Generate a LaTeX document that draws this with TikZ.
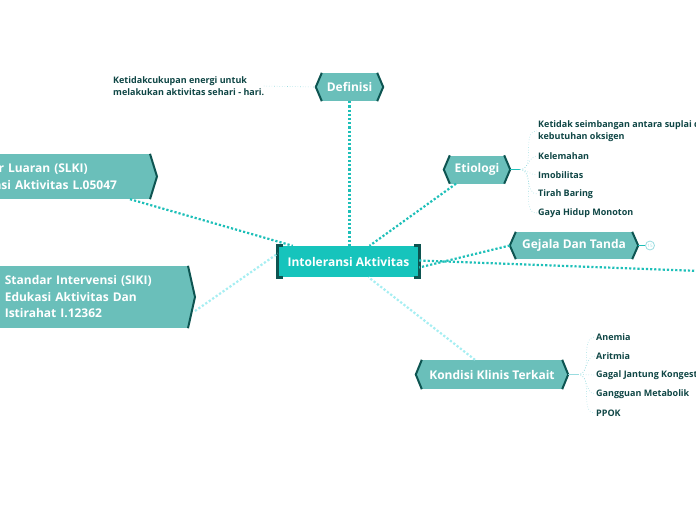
\documentclass[tikz,border=0pt]{standalone}
\usepackage{fontspec}
\setmainfont{Open Sans}
\usepackage{xcolor}
\usetikzlibrary{calc,backgrounds}

\definecolor{dotteal}{HTML}{1DBFB8}
\definecolor{dotlight}{HTML}{A6EEF2}
\definecolor{twigcol}{HTML}{9ADCE0}
\definecolor{hexfill}{HTML}{6ABFBA}
\definecolor{corefill}{HTML}{16C4BC}
\definecolor{edgedark}{HTML}{0D5451}
\definecolor{leafdark}{HTML}{0F4645}

\begin{document}
\begin{tikzpicture}[
    x=1pt, y=-1pt,
    core/.style={fill=corefill,text=white,minimum width=141,minimum height=31,
                 inner sep=0pt,font=\bfseries\fontsize{12}{14}\selectfont},
    hexnode/.style={fill=hexfill,text=white,minimum height=28,inner xsep=1pt,
                    inner ysep=0pt,font=\bfseries\fontsize{12}{14}\selectfont},
    sidebox/.style={fill=hexfill,text=white,align=left,inner xsep=7pt,
                    font=\bfseries\fontsize{12}{16.5}\selectfont},
    leaf/.style={text=leafdark,anchor=west,inner sep=1pt,align=left,
                 font=\bfseries\fontsize{9}{12}\selectfont},
    bracket/.style={draw=edgedark,line width=3pt},
    chevron/.style={draw=edgedark,line width=2pt},
    mainlink/.style={dotteal,line width=2.2pt,dash pattern=on 2.2pt off 2pt},
    softlink/.style={dotlight,line width=2.2pt,dash pattern=on 2.2pt off 2pt},
    twig/.style={twigcol,line width=0.6pt,dotted},
    stub/.style={dotteal,line width=1.5pt},
  ]
  \useasboundingbox (0,0) rectangle (696,520);
  \clip (0,0) rectangle (696,520);

  % --- central topic ---
  \node[core] (ia) at (348.5,261.5) {Intoleransi Aktivitas};
  \draw[bracket] ([xshift=5]ia.north west) -- (ia.north west) -- (ia.south west) -- ([xshift=5]ia.south west);
  \draw[bracket] ([xshift=-5]ia.north east) -- (ia.north east) -- (ia.south east) -- ([xshift=-5]ia.south east);

  % --- main branches ---
  \node[hexnode,minimum width=55] (definisi) at (349.5,87)  {Definisi};
  \node[hexnode,minimum width=54] (etiologi) at (477,169.5)  {Etiologi};
  \node[hexnode,minimum width=116,minimum height=27] (gejala) at (574,245.5) {Gejala Dan Tanda};
  \node[hexnode,minimum width=140,minimum height=29] (kondisi) at (492,374.5) {Kondisi Klinis Terkait};

  \foreach \n in {definisi,etiologi,gejala,kondisi} {
    \fill[hexfill] (\n.north west) -- ([xshift=-6]\n.west) -- (\n.south west) -- cycle;
    \fill[hexfill] (\n.north east) -- ([xshift=6]\n.east) -- (\n.south east) -- cycle;
    \draw[chevron] (\n.north west) -- ([xshift=-6]\n.west) -- (\n.south west);
    \draw[chevron] (\n.north east) -- ([xshift=6]\n.east) -- (\n.south east);
  }

  % --- standards on the left (run off the page) ---
  \node[sidebox,text width=186,minimum height=45,anchor=east] (slki) at (150,176.5)
    {Standar Luaran (SLKI)\\Toleransi Aktivitas L.05047};
  \node[sidebox,text width=176,minimum height=62,anchor=east] (siki) at (188,297)
    {Standar Intervensi (SIKI)\\Edukasi Aktivitas Dan\\Istirahat I.12362};

  \foreach \n in {slki,siki} {
    \fill[hexfill] (\n.north east) -- ([xshift=7]\n.east) -- (\n.south east) -- cycle;
    \draw[chevron] (\n.north east) -- ([xshift=7]\n.east) -- (\n.south east);
  }

  % --- definition text ---
  \node[leaf] (deftext) at (112,86)
    {Ketidakcukupan energi untuk\\melakukan aktivitas sehari - hari.};

  % --- etiologi leaves ---
  \coordinate (ethub) at (520,169.5);
  \node[leaf] (e1) at (537,131) {Ketidak seimbangan antara suplai dan\\kebutuhan oksigen};
  \node[leaf] (e2) at (537,156) {Kelemahan};
  \node[leaf] (e3) at (537,175) {Imobilitas};
  \node[leaf] (e4) at (537,194) {Tirah Baring};
  \node[leaf] (e5) at (537,213) {Gaya Hidup Monoton};

  % --- kondisi klinis leaves ---
  \coordinate (kohub) at (578,374.5);
  \node[leaf] (k1) at (595,337) {Anemia};
  \node[leaf] (k2) at (595,356) {Aritmia};
  \node[leaf] (k3) at (595,375) {Gagal Jantung Kongestif};
  \node[leaf] (k4) at (595,394) {Gangguan Metabolik};
  \node[leaf] (k5) at (595,413) {PPOK};

  % --- collapsed count on gejala ---
  \node[circle,draw=twigcol,line width=0.8pt,minimum size=9,inner sep=0pt,
        text=twigcol,font=\fontsize{4.5}{5}\selectfont] (gcount) at (650,245.5) {15};
  \coordinate (offright) at (700,271);

  % --- connectors ---
  \draw[mainlink] (definisi.south) -- (ia.north -| definisi.south);
  \draw[mainlink] (slki.south east) ++(-20,0) coordinate (slkiout) -- ([xshift=15]ia.north west);
  \draw[mainlink] ([xshift=-21]etiologi.south) -- ([xshift=21]ia.north);
  \draw[mainlink] ([xshift=-6]gejala.west) -- ([yshift=-6]ia.east);
  \draw[mainlink] ([yshift=1]ia.east) -- (offright);
  \draw[softlink] ([xshift=7,yshift=-14]siki.east) -- ([yshift=8]ia.west);
  \draw[softlink] ([xshift=-17]kondisi.north) -- ([xshift=20]ia.south);

  \draw[twig] ([shift={(-58,0)}]deftext.east -| definisi.west) -- ([xshift=-6]definisi.west);
  \draw[stub] ([xshift=6]etiologi.east) -- (ethub);
  \draw[stub,twigcol,line width=1pt] ([xshift=6]kondisi.east) -- (kohub);
  \draw[stub,line width=1pt] ([xshift=6]gejala.east) -- (gcount);

  \foreach \l in {e1,e2,e3,e4,e5}
    \draw[twig] (ethub) to[out=0,in=180] (\l.west);
  \foreach \l in {k1,k2,k3,k4,k5}
    \draw[twig] (kohub) to[out=0,in=180] (\l.west);

\end{tikzpicture}
\end{document}
